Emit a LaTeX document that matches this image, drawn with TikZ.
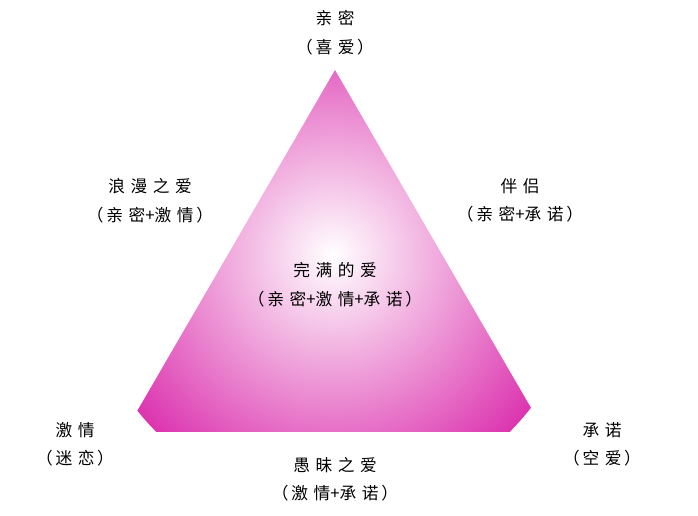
\documentclass[tikz,border=0pt]{standalone}
\usepackage{fontspec}
\setmainfont{Noto Sans CJK SC}
\usetikzlibrary{positioning}
\definecolor{rose}{RGB}{220,52,175}
\tikzset{lbl/.style={font=\fontsize{9.5}{10}\selectfont,inner sep=0pt},
sub/.style={lbl,below=7pt of #1}}

\begin{document}
\begin{tikzpicture}[x=0.02cm,y=-0.02cm]
\useasboundingbox (0,0) rectangle (698,516);

% Triangle
\coordinate (top) at (335,70);
\coordinate (bl) at (125,432);
\coordinate (br) at (545,432);
\begin{scope}
\clip (top) -- (bl) -- (br) -- cycle;
\shade[inner color=white,outer color=rose] (333,255) circle (250);
\end{scope}

% Labels
\node[lbl] (qm) at (335,18) {亲\,\,密};
\node[sub=qm] (qmb) {（\,喜\,\,爱\,）};
\node[lbl] (lm) at (150,186) {浪\,\,漫\,\,之\,\,爱};
\node[sub=lm] (lmb) {（\,亲\,\,密+激\,\,情\,）};
\node[lbl] (bl2) at (520,186) {伴\,\,侣};
\node[sub=bl2] (bl2b) {（\,亲\,\,密+承\,\,诺\,）};
\node[lbl] (wm) at (335,270) {完\,\,满\,\,的\,\,爱};
\node[sub=wm] (wmb) {（\,亲\,\,密+激\,\,情+承\,\,诺\,）};
\node[lbl] (jq) at (75,430) {激\,\,情};
\node[sub=jq] (jqb) {（\,迷\,\,恋\,）};
\node[lbl] (cn) at (602,430) {承\,\,诺};
\node[sub=cn] (cnb) {（\,空\,\,爱\,）};
\node[lbl] (ym) at (335,465) {愚\,\,昧\,\,之\,\,爱};
\node[sub=ym] (ymb) {（\,激\,\,情+承\,\,诺\,）};

\end{tikzpicture}
\end{document}
